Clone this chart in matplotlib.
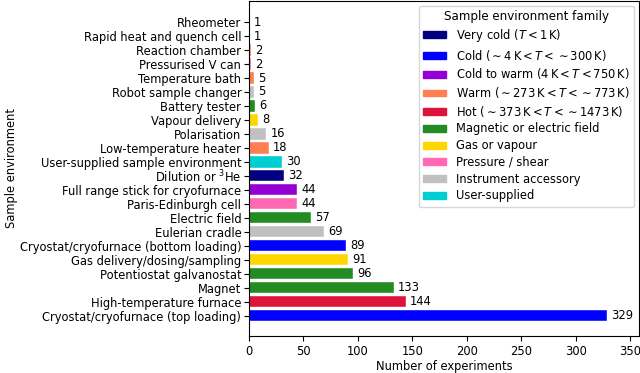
import matplotlib
matplotlib.use("Agg")
import matplotlib.pyplot as plt
from matplotlib.patches import Patch

# bottom to top
environments = [
    "Cryostat/cryofurnace (top loading)",
    "High-temperature furnace",
    "Magnet",
    "Potentiostat galvanostat",
    "Gas delivery/dosing/sampling",
    "Cryostat/cryofurnace (bottom loading)",
    "Eulerian cradle",
    "Electric field",
    "Paris-Edinburgh cell",
    "Full range stick for cryofurnace",
    "Dilution or $^3$He",
    "User-supplied sample environment",
    "Low-temperature heater",
    "Polarisation",
    "Vapour delivery",
    "Battery tester",
    "Robot sample changer",
    "Temperature bath",
    "Pressurised V can",
    "Reaction chamber",
    "Rapid heat and quench cell",
    "Rheometer",
]
counts = [329, 144, 133, 96, 91, 89, 69, 57, 44, 44, 32, 30, 18, 16, 8, 6, 5, 5, 2, 2, 1, 1]
families = ["cold", "hot", "field", "field", "gas", "cold", "acc", "field", "pressure",
            "coldwarm", "verycold", "user", "warm", "acc", "gas", "field", "acc", "warm",
            "pressure", "warm", "hot", "pressure"]

family_keys = ["verycold", "cold", "coldwarm", "warm", "hot", "field", "gas", "pressure", "acc", "user"]
family_labels = [
    r"Very cold ($T < 1\,\mathrm{K}$)",
    r"Cold ($\sim 4\,\mathrm{K} < T < \sim 300\,\mathrm{K}$)",
    r"Cold to warm ($4\,\mathrm{K} < T < 750\,\mathrm{K}$)",
    r"Warm ($\sim 273\,\mathrm{K} < T < \sim 773\,\mathrm{K}$)",
    r"Hot ($\sim 373\,\mathrm{K} < T < \sim 1473\,\mathrm{K}$)",
    "Magnetic or electric field",
    "Gas or vapour",
    "Pressure / shear",
    "Instrument accessory",
    "User-supplied",
]
family_colors = ["navy", "blue", "darkviolet", "coral", "crimson", "forestgreen",
                 "gold", "hotpink", "silver", "darkturquoise"]
cmap = dict(zip(family_keys, family_colors))

fs = 8.3
plt.rcParams["font.size"] = fs

fig, ax = plt.subplots(figsize=(6.4, 3.73), dpi=100)
fig.subplots_adjust(left=0.389, right=0.998, top=0.997, bottom=0.1)

bars = ax.barh(range(len(environments)), counts, height=0.8,
               color=[cmap[f] for f in families], edgecolor="white", linewidth=0.3)
ax.bar_label(bars, padding=3, fontsize=fs)
ax.set_yticks(range(len(environments)))
ax.set_yticklabels(environments)
ax.tick_params(axis="y", pad=2)
ax.set_ylim(-1.43, len(environments) - 1 + 1.5)
ax.set_xlim(0, 358)
ax.set_xlabel("Number of experiments", labelpad=1)
ax.set_ylabel("Sample environment", labelpad=1)

handles = [Patch(color=c, label=l) for c, l in zip(family_colors, family_labels)]
ax.legend(handles=handles, title="Sample environment family", loc="upper right",
          fontsize=fs, title_fontsize=fs + 0.3, labelspacing=0.32,
          handleheight=0.55, borderaxespad=0.4)

fig.savefig("out.png", dpi=100)
